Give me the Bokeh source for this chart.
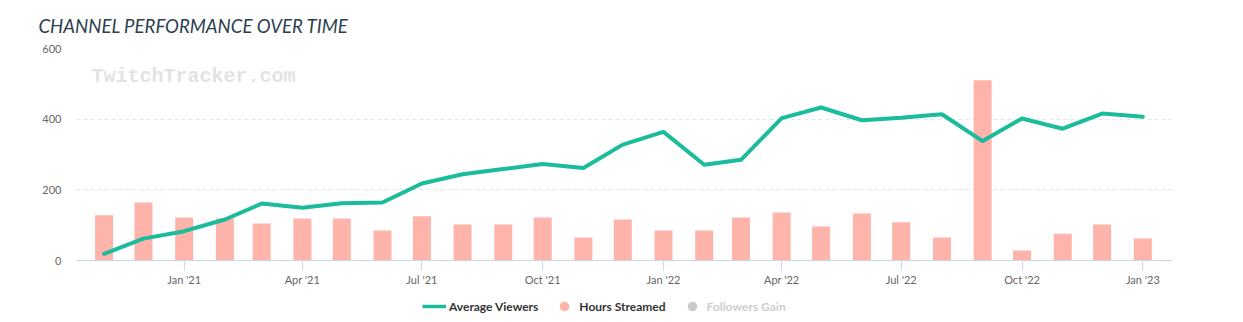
import pandas as pd
from bokeh.plotting import figure
from bokeh.layouts import column
from bokeh.models import (ColumnDataSource, FixedTicker, Legend, LegendItem,
                          Label, Range1d)
from bokeh.embed import file_html
from bokeh.resources import INLINE

# ---- data ----
months = ["2020-11-01", "2020-12-01", "2021-01-01", "2021-02-01", "2021-03-01",
          "2021-04-01", "2021-05-01", "2021-06-01", "2021-07-01", "2021-08-01",
          "2021-09-01", "2021-10-01", "2021-11-01", "2021-12-01", "2022-01-01",
          "2022-02-01", "2022-03-01", "2022-04-01", "2022-05-01", "2022-06-01",
          "2022-07-01", "2022-08-01", "2022-09-01", "2022-10-01", "2022-11-01",
          "2022-12-01", "2023-01-01"]
avg_viewers = [19, 62, 83, 116, 161, 149, 162, 164, 218, 244, 259, 273, 262, 328,
               364, 271, 285, 403, 433, 397, 404, 414, 338, 402, 373, 416, 407]
hours_streamed = [128, 164, 122, 119, 105, 119, 119, 85, 125, 102, 102, 122, 65, 116,
                  85, 85, 122, 136, 96, 133, 108, 65, 510, 28, 76, 102, 62]

tick_dates = ["2021-01-01", "2021-04-01", "2021-07-01", "2021-10-01", "2022-01-01",
              "2022-04-01", "2022-07-01", "2022-10-01", "2023-01-01"]
tick_labels = ["Jan '21", "Apr '21", "Jul '21", "Oct '21", "Jan '22",
               "Apr '22", "Jul '22", "Oct '22", "Jan '23"]
y_ticks = [0, 200, 400, 600]

title_text = "CHANNEL PERFORMANCE OVER TIME"
watermark_text = "TwitchTracker.com"
series_names = ["Average Viewers", "Hours Streamed", "Followers Gain"]
# legend-only renderers carry no visible data (NaN placeholder)
legend_placeholder = [float("nan")]

LINE_COLOR = "#1abc9c"
BAR_COLOR = "#feb3ab"

# ---- main chart ----
dates = pd.to_datetime(months)
src = ColumnDataSource(dict(date=dates, viewers=avg_viewers, hours=hours_streamed))

p = figure(width=1243, height=288, x_axis_type="datetime",
           output_backend="svg", toolbar_location=None,
           x_range=Range1d(pd.Timestamp("2020-10-11"), pd.Timestamp("2023-01-23 14:00")),
           y_range=Range1d(0, 600),
           min_border_left=76, min_border_right=71,
           min_border_top=48, min_border_bottom=28)
p.outline_line_color = None
p.background_fill_color = "white"
p.border_fill_color = "white"

p.title.text = title_text
p.title.align = "left"
p.title.vertical_align = "top"
p.title.offset = -38
p.title.standoff = 20
p.title.text_font = "Lato"
p.title.text_font_style = "italic"
p.title.text_font_size = "18.6px"
p.title.text_color = "#2c3e50"

DAY = 86400000
p.vbar(x="date", top="hours", width=13.7 * DAY, source=src,
       fill_color=BAR_COLOR, line_color=None)
p.line(x="date", y="viewers", source=src, line_color=LINE_COLOR,
       line_width=4, line_join="round", line_cap="round")

tick_ms = [int(pd.Timestamp(d).timestamp() * 1000) for d in tick_dates]
xa = p.xaxis[0]
xa.ticker = FixedTicker(ticks=tick_ms)
xa.major_label_overrides = dict(zip(tick_ms, tick_labels))
xa.axis_line_color = "#ccd6eb"
xa.major_tick_line_color = "#ccd6eb"
xa.major_tick_out = 10
xa.major_tick_in = 0
xa.minor_tick_line_color = None
xa.major_label_standoff = 2
xa.major_label_text_font = "Lato"
xa.major_label_text_font_size = "11px"
xa.major_label_text_color = "#666666"

ya = p.yaxis[0]
ya.ticker = FixedTicker(ticks=y_ticks)
ya.axis_line_color = None
ya.major_tick_line_color = None
ya.minor_tick_line_color = None
ya.major_tick_out = 0
ya.major_tick_in = 0
ya.major_label_standoff = 15
ya.major_label_text_font = "Lato"
ya.major_label_text_font_size = "11px"
ya.major_label_text_color = "#666666"

p.xgrid.grid_line_color = None
p.ygrid.grid_line_color = "#e6e6e6"
p.ygrid.grid_line_dash = "4 3"
p.ygrid.ticker = FixedTicker(ticks=[200, 400, 600])

p.add_layout(Label(x=15, y=184, x_units="screen", y_units="screen", text=watermark_text,
                   text_font="Liberation Mono", text_font_style="bold",
                   text_font_size="20px", text_color="#e3e3e3",
                   text_baseline="alphabetic"))

# ---- legend strip ----
lg = figure(width=1243, height=34, output_backend="svg", toolbar_location=None,
            x_axis_location=None, y_axis_location=None,
            x_range=Range1d(0, 1), y_range=Range1d(0, 1),
            min_border=0)
lg.outline_line_color = None
lg.grid.grid_line_color = None
lg.background_fill_color = "white"
lg.border_fill_color = "white"

r_line = lg.line(x=legend_placeholder * 2, y=legend_placeholder * 2,
                 line_color=LINE_COLOR, line_width=3.5)
r_hours = lg.scatter(x=legend_placeholder, y=legend_placeholder, marker="circle",
                     fill_color=BAR_COLOR, line_color=None)
r_foll = lg.scatter(x=legend_placeholder, y=legend_placeholder, marker="circle",
                    fill_color="#333333", line_color=None)
r_foll.visible = False

legend = Legend(items=[LegendItem(label=series_names[0], renderers=[r_line]),
                       LegendItem(label=series_names[1], renderers=[r_hours]),
                       LegendItem(label=series_names[2], renderers=[r_foll])],
                orientation="horizontal", location=(346, 3),
                click_policy="hide", glyph_width=24, glyph_height=26,
                label_standoff=3, spacing=14, padding=0, margin=0,
                border_line_color=None, background_fill_alpha=0,
                label_text_font="Lato", label_text_font_style="bold",
                label_text_font_size="12px", label_text_color="#333333",
                inactive_fill_color="white", inactive_fill_alpha=0.75)
lg.add_layout(legend)

layout = column(p, lg, spacing=0)
open("out.html", "w").write(file_html(layout, INLINE))
